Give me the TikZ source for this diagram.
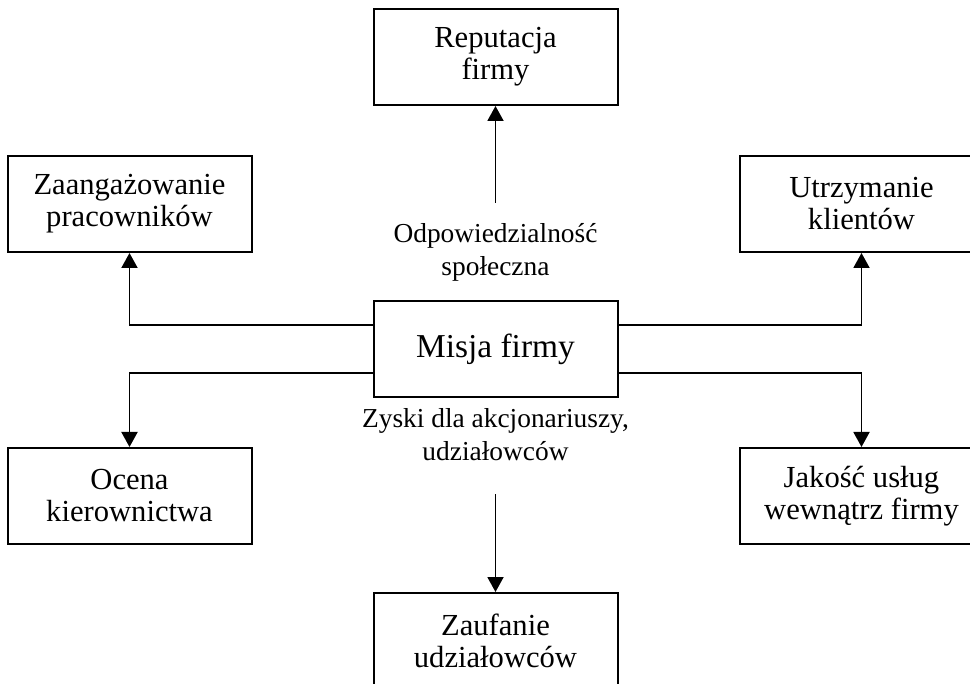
\documentclass[tikz,border=0pt]{standalone}
\usepackage{fontspec}
\setmainfont{Liberation Serif}
\usetikzlibrary{positioning,arrows.meta}
\tikzset{
    box/.style={draw=black,line width=1pt,fill=white,inner sep=0pt,
        minimum width=122pt,minimum height=48pt,align=center,
        font=\fontsize{15.3}{16}\selectfont},
    corebox/.style={box,font=\fontsize{16.7}{18}\selectfont},
    note/.style={inner sep=0pt,align=center,font=\fontsize{13.7}{16.7}\selectfont},
    arrow/.style={-{Triangle[length=7.5pt,width=8pt]},draw=black,line width=0.95pt}
}

\begin{document}
\begin{tikzpicture}[x=0.5pt,y=-0.5pt,node distance=23.5pt and 60pt]
        \clip (0,0) rectangle (970,684);
        \useasboundingbox (0,0) rectangle (970,684);
        \node[corebox] (misja) at (495.5,349) {Misja firmy};
        \node[box] (rep) [above=97pt of misja] {Reputacja\\firmy};
        \node[box] (zaang) [above left=of misja] {Zaangażowanie\\pracowników};
        \node[box] (klienci) [above right=of misja] {Utrzymanie\\klientów};
        \node[box] (ocena) [below left=24.5pt and 60pt of misja] {Ocena\\kierownictwa};
        \node[box] (jakosc) [below right=24.5pt and 60pt of misja] {Jakość usług\\wewnątrz firmy};
        \node[box] (zaufanie) [below=97pt of misja] {Zaufanie\\udziałowców};
        \node[note] (csr) [above=9pt of misja] {Odpowiedzialność\\społeczna};
        \node[note] (zyski) [below=5pt of misja] {Zyski dla akcjonariuszy,\\udziałowców};
        \coordinate (uptail) at ([yshift=48.5pt]misja.north);
        \coordinate (downtail) at ([yshift=-48pt]misja.south);
        \draw[arrow] (uptail) -- (rep);
        \draw[arrow] (downtail) -- (zaufanie);
        \draw[arrow] ([yshift=-12.5pt]misja.north west) -| (zaang);
        \draw[arrow] ([yshift=-12.5pt]misja.north east) -| (klienci);
        \draw[arrow] ([yshift=12.5pt]misja.south west) -| (ocena);
        \draw[arrow] ([yshift=12.5pt]misja.south east) -| (jakosc);
    \end{tikzpicture}
\end{document}
